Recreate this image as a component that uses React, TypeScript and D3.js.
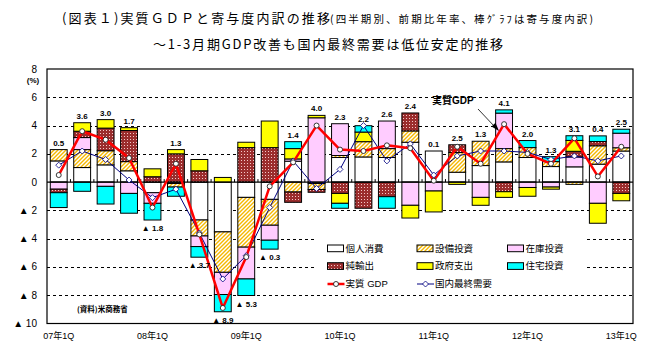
import React from 'react';
import * as d3 from 'd3';

const quarters = [
  '07Q1','07Q2','07Q3','07Q4','08Q1','08Q2','08Q3','08Q4','09Q1','09Q2','09Q3','09Q4',
  '10Q1','10Q2','10Q3','10Q4','11Q1','11Q2','11Q3','11Q4','12Q1','12Q2','12Q3','12Q4','13Q1'
];
const tickLabels = ['07年1Q','08年1Q','09年1Q','10年1Q','11年1Q','12年1Q','13年1Q'];
const tickQuarters = ['07Q1','08Q1','09Q1','10Q1','11Q1','12Q1','13Q1'];

const personal   = [1.5, 1.03, 1.22, 0.8, -0.75, -0.1, -2.68, -3.52, -1.08, -1.22, 1.48, -0.1, 1.74, 1.78, 1.74, 2.82, 2.2, 0.7, 1.17, 1.43, 1.74, 1.1, 1.08, 1.27, 2.2];
const capex      = [0.8, 1.27, 1.0, 0.65, 0, -0.25, -1.13, -2.86, -3.52, -1.83, -0.7, -0.42, 0.14, 1.08, 0.63, 0.8, 0, 1.39, 1.72, 0.94, 0.7, 0.35, -0.16, 1.3, 0.23];
const inventory  = [-0.5, 0.85, -0.3, -0.8, -0.75, 0, -0.75, -1.57, -2.25, -1.06, 0.16, 4.55, 2.25, 0, 1.95, -1.64, -0.63, 0, -1.08, 2.51, -0.38, -0.35, 0.7, -1.5, 1.03];
const netExports = [-0.25, 0.45, 1.6, 2.2, 0.38, 2.0, 0.8, 0, 2.44, 2.44, -0.73, -0.2, -0.8, -1.85, -1.03, 1.27, 0, 0.55, 0, -0.68, 0, 0, 0.4, 0.3, -0.8];
const government = [0, 0.6, 0.6, 0.2, 0.56, 0.3, 0.8, 0.33, 0.38, 1.88, 0.73, 0.17, -0.7, 0.68, 0, -0.9, -1.48, -0.16, -0.56, -0.4, -0.62, -0.15, 0.77, -1.41, -0.52];
const housing    = [-1.05, -0.65, -1.25, -1.4, -1.18, -0.65, -0.75, -1.22, -1.17, -0.63, 0.49, 0, -0.35, 0.45, -0.82, 0, 0, 0, 0, 0.23, 0.5, 0.35, 0.33, 0.4, 0.28];

const realGDP = [0.5, 3.6, 3.0, 1.7, -1.8, 1.3, -3.7, -8.9, -5.3, -0.3, 1.4, 4.0, 2.3, 2.2, 2.6, 2.4, 0.1, 2.5, 1.3, 4.1, 2.0, 1.3, 3.1, 0.4, 2.5];
const domesticDemand = [1.2, 2.2, 1.6, 0.15, -1.1, -0.5, -3.6, -6.85, -5.2, -1.8, 1.5, -0.45, 0.9, 4.0, 1.5, 2.7, 0.5, 1.85, 2.2, 2.2, 2.1, 1.6, 1.85, 1.5, 1.85];

const seriesKeys = ['personal', 'capex', 'inventory', 'netExports', 'government', 'housing'];
const seriesNames = ['個人消費', '設備投資', '在庫投資', '純輸出', '政府支出', '住宅投資'];
const seriesData = [personal, capex, inventory, netExports, government, housing];
const lineNames = ['実質 GDP', '国内最終需要'];
const yTicks = [8, 6, 4, 2, 0, -2, -4, -6, -8, -10];
const gridVals = [6, 4, 2, -2, -4, -6, -8];

const fills: Record<string, string> = {
  personal: '#FFFFFF',
  capex: 'url(#hatch)',
  inventory: '#FFCCFF',
  netExports: 'url(#dots)',
  government: '#FFFF00',
  housing: '#00FFFF',
};

const LEFT = 47, RIGHT = 633, TOP = 69, BOTTOM = 323.5;
const FONT = "'Liberation Sans', 'Noto Sans CJK JP', sans-serif";
const JFONT = "'Noto Sans CJK JP', sans-serif";

function fmt(v: number, space = false) {
  return v < 0 ? '▲' + (space ? ' ' : '') + Math.abs(v).toFixed(space ? 0 : 1) : v.toFixed(space ? 0 : 1);
}

export default function App() {
  const x = d3.scaleBand<string>().domain(quarters).range([LEFT, RIGHT]).paddingInner(0.28).paddingOuter(0.14);
  const y = d3.scaleLinear().domain([-10, 8]).range([BOTTOM, TOP]);
  const rows = quarters.map((q, i) => {
    const r: any = { q };
    seriesKeys.forEach((k, j) => (r[k] = seriesData[j][i]));
    return r;
  });
  const stacked = d3.stack<any>().keys(seriesKeys).offset(d3.stackOffsetDiverging)(rows);
  const cx = (q: string) => (x(q) as number) + x.bandwidth() / 2;
  const step = x.step();

  const topOf = quarters.map((_, i) => Math.max(0, ...stacked.map(s => s[i][1])));
  const botOf = quarters.map((_, i) => Math.min(0, ...stacked.map(s => s[i][0])));

  const lineGen = d3.line<number>().x((_, i) => cx(quarters[i])).y(d => y(d));

  const legendRows = [
    [0, 1, 2],
    [3, 4, 5],
  ];
  const colX = [327.5, 417, 507.5];
  const rowY = [248.3, 266, 284];

  return (
    <svg width={658} height={356} style={{ position: 'absolute', left: 0, top: 0, background: '#fff' }}>
      <defs>
        <pattern id="hatch" width="4" height="4" patternUnits="userSpaceOnUse">
          <rect width="4" height="4" fill="#fff" />
          <path d="M-1,1 l2,-2 M0,4 l4,-4 M3,5 l2,-2" stroke="#F5B800" strokeWidth={1.4} />
        </pattern>
        <pattern id="dots" width="3" height="3" patternUnits="userSpaceOnUse">
          <rect width="3" height="3" fill="#9B2D2D" />
          <rect x="1" y="1" width="1" height="1" fill="#F4C8C8" />
        </pattern>
      </defs>
      <rect width={658} height={356} fill="#fff" />

      {/* Title */}
      <text x={62} y={23} fontFamily={JFONT} fontSize={13} textLength={268} lengthAdjust="spacing">(図表１)実質ＧＤＰと寄与度内訳の推移</text>
      <text x={330} y={23} fontFamily={JFONT} fontSize={10.5} textLength={263} lengthAdjust="spacing">(四半期別、前期比年率、棒ｸﾞﾗﾌは寄与度内訳)</text>
      <text x={153} y={49} fontFamily={JFONT} fontSize={13} textLength={350} lengthAdjust="spacing">〜1-3月期GDP改善も国内最終需要は低位安定的推移</text>

      {/* grid */}
      {gridVals.map(v => (
        <line key={v} x1={LEFT} x2={RIGHT} y1={Math.round(y(v)) + 0.5} y2={Math.round(y(v)) + 0.5} stroke="#000" strokeWidth={1} strokeDasharray="3,3" />
      ))}

      {/* y labels */}
      {yTicks.map(v => (
        <text key={v} x={37} y={y(v)} dy="0.35em" textAnchor="end" fontFamily={FONT} fontSize={10}>
          {v < 0 ? '▲ ' + Math.abs(v) : String(v)}
        </text>
      ))}
      <text x={33} y={83} textAnchor="middle" fontFamily={FONT} fontSize={8} fontWeight="bold">(%)</text>

      {/* bars */}
      {stacked.map(s => (
        <g key={s.key}>
          {s.map((d, i) => {
            const h = Math.abs(y(d[0]) - y(d[1]));
            if (h < 0.2) return null;
            return (
              <rect key={i} x={x(quarters[i])} y={Math.min(y(d[0]), y(d[1]))} width={x.bandwidth()} height={h}
                fill={fills[s.key]} stroke="#000" strokeWidth={1} />
            );
          })}
        </g>
      ))}

      {/* zero line & ticks */}
      <line x1={LEFT} x2={RIGHT} y1={y(0)} y2={y(0)} stroke="#000" strokeWidth={1.2} />
      {quarters.slice(1).map((q, i) => (
        <line key={q} x1={LEFT + step * (i + 1)} x2={LEFT + step * (i + 1)} y1={y(0)} y2={y(0) - 3} stroke="#000" strokeWidth={1} />
      ))}

      {/* legend background */}
      <rect x={317} y={232} width={270} height={60} fill="#fff" />

      {/* lines */}
      <path d={lineGen(domesticDemand) || ''} fill="none" stroke="#000080" strokeWidth={1} />
      <path d={lineGen(realGDP) || ''} fill="none" stroke="#FF0000" strokeWidth={2.5} strokeLinejoin="round" />
      {domesticDemand.map((v, i) => {
        const px = cx(quarters[i]), py = y(v);
        return <path key={i} d={`M${px},${py - 3}L${px + 3},${py}L${px},${py + 3}L${px - 3},${py}Z`} fill="#fff" stroke="#000080" strokeWidth={0.8} />;
      })}
      {realGDP.map((v, i) => (
        <circle key={i} cx={cx(quarters[i])} cy={y(v)} r={2.5} fill="#fff" stroke="#222" strokeWidth={0.9} />
      ))}

      {/* value labels */}
      {realGDP.map((v, i) => {
        const q = quarters[i];
        const ty = v >= 0 ? y(topOf[i]) - 4 : y(botOf[i]) + 11;
        return (
          <text key={q} x={cx(q)} y={ty} textAnchor="middle" fontFamily={FONT} fontSize={8} fontWeight="bold">
            {v < 0 ? '▲ ' + Math.abs(v).toFixed(1) : v.toFixed(1)}
          </text>
        );
      })}

      {/* annotation */}
      <text x={432} y={104} fontFamily={FONT} fontSize={10} fontWeight="bold">実質GDP</text>
      <line x1={478} y1={109} x2={495} y2={127} stroke="#333" strokeWidth={1} />
      <path d="M499,131 L491.5,126.5 L495.5,122.8 Z" fill="#000" />

      {/* source */}
      <text x={77} y={312} fontFamily={JFONT} fontSize={7.5} fontWeight="bold">(資料)米商務省</text>

      {/* legend */}
      {legendRows.map((row, ri) => row.map((si, ci) => (
        <g key={si}>
          <rect x={colX[ci]} y={rowY[ri] - 3.3} width={16} height={6.7} fill={fills[seriesKeys[si]]} stroke="#000" strokeWidth={1} />
          <text x={colX[ci] + 18} y={rowY[ri]} dy="0.36em" fontFamily={JFONT} fontSize={9.5}>{seriesNames[si]}</text>
        </g>
      )))}
      <g>
        <line x1={colX[0]} x2={colX[0] + 17} y1={rowY[2]} y2={rowY[2]} stroke="#FF0000" strokeWidth={2.5} />
        <circle cx={colX[0] + 8.5} cy={rowY[2]} r={2.5} fill="#fff" stroke="#222" strokeWidth={0.9} />
        <text x={colX[0] + 18} y={rowY[2]} dy="0.36em" fontFamily={FONT} fontSize={9.5}>{lineNames[0]}</text>
        <line x1={colX[1]} x2={colX[1] + 17} y1={rowY[2]} y2={rowY[2]} stroke="#000080" strokeWidth={1} />
        <path d={`M${colX[1] + 8.5},${rowY[2] - 3}l3,3l-3,3l-3,-3Z`} fill="#fff" stroke="#000080" strokeWidth={0.8} />
        <text x={colX[1] + 18} y={rowY[2]} dy="0.36em" fontFamily={JFONT} fontSize={9.5}>{lineNames[1]}</text>
      </g>

      {/* x labels */}
      {tickQuarters.map((q, i) => (
        <text key={q} x={cx(q)} y={339} textAnchor="middle" fontFamily={FONT} fontSize={9}>{tickLabels[i]}</text>
      ))}

      {/* frame */}
      <rect x={LEFT} y={TOP} width={RIGHT - LEFT} height={BOTTOM - TOP} fill="none" stroke="#000" strokeWidth={1.2} />
    </svg>
  );
}
